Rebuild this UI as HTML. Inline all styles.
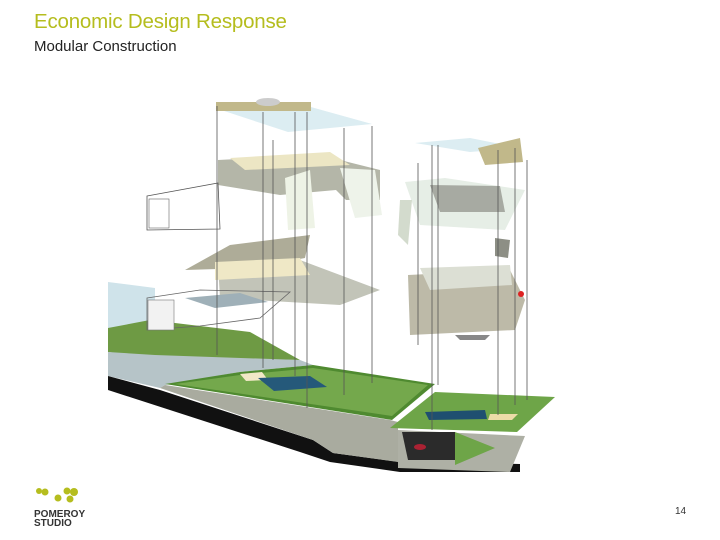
<!DOCTYPE html>
<html><head><meta charset="utf-8"><style>
html,body{margin:0;padding:0;background:#fff;width:720px;height:540px;overflow:hidden;font-family:"Liberation Sans",sans-serif}
.t{position:absolute;left:34px;top:10px;font-size:20.5px;color:#b5bd1e;letter-spacing:-0.2px}
.s{position:absolute;left:34px;top:38px;font-size:15px;color:#222}
.n{position:absolute;left:675px;top:506px;font-size:10px;color:#333}
.lg{position:absolute;left:34px;top:510px;font-size:10px;font-weight:bold;line-height:9px;color:#333}
</style></head><body>
<div class="t">Economic Design Response</div>
<div class="s">Modular Construction</div>
<svg width="720" height="540" style="position:absolute;left:0;top:0">
<g fill="#b5bd1e"><circle cx="39" cy="491" r="3"/><circle cx="45" cy="492" r="3.5"/><circle cx="58" cy="498" r="3.5"/><circle cx="67" cy="491" r="3.5"/><circle cx="74" cy="492" r="4"/><circle cx="70" cy="499" r="3.5"/></g>
<!-- ground -->
<polygon points="108,282 155,288 155,332 108,330" fill="#cfe3ea"/>
<polygon points="108,328 150,320 250,332 300,360 155,358 108,352" fill="#6e9a44"/>
<polygon points="108,352 155,355 300,360 313,365 240,372 165,385 160,388 108,376" fill="#b6c4c8"/>
<polygon points="108,376 160,390 313,440 333,453 400,462 520,464 520,472 400,472 330,462 300,452 108,390" fill="#111"/>
<polygon points="160,388 165,385 390,420 398,422 398,462 333,453 313,440" fill="#a9ab9f"/>
<polygon points="165,384 240,372 313,365 435,384 392,420" fill="#4f8a30"/>
<polygon points="175,384 240,375 313,368 428,385 392,416" fill="#74a84c"/>
<polygon points="240,374 262,372 268,380 246,381" fill="#f1e8c6"/>
<polygon points="258,378 310,376 327,387 274,391" fill="#25597a"/>
<polygon points="390,428 435,392 555,397 517,432" fill="#6ea548"/>
<polygon points="425,412 485,410 487,419 429,420" fill="#1f4f70"/>
<polygon points="490,414 518,414 512,420 488,420" fill="#ecdca8"/>
<polygon points="398,430 525,436 510,472 398,468" fill="#aeb0a5"/>
<polygon points="402,432 455,432 455,460 408,460" fill="#2b2b2b"/>
<polygon points="455,432 495,448 455,465" fill="#6ea548"/>
<ellipse cx="420" cy="447" rx="6" ry="3" fill="#a23"/>
<!-- left building -->
<polygon points="215,108 300,104 372,124 288,132" fill="#dcedf2"/>
<rect x="216" y="102" width="95" height="9" fill="#c1b88a"/>
<ellipse cx="268" cy="102" rx="12" ry="4" fill="#ccc"/>
<polygon points="218,160 320,155 380,170 380,200 346,200 336,190 280,195 218,185" fill="#b4b6a8"/>
<polygon points="230,158 330,152 350,165 245,170" fill="#ece6c4"/>
<polygon points="340,168 375,170 382,215 355,218" fill="#eef3ea"/>
<polygon points="285,178 310,170 315,228 288,230" fill="#eef3e6"/>
<polygon points="147,196 218,183 220,229 147,230" fill="none" stroke="#555" stroke-width=".8"/>
<rect x="149" y="199" width="20" height="29" fill="#fff" stroke="#666" stroke-width=".6"/>
<polygon points="185,270 230,245 310,235 305,258 250,268" fill="#aeac98"/>
<polygon points="218,265 300,260 380,290 340,305 220,298" fill="#c2c4b8"/>
<polygon points="215,262 300,258 310,275 215,280" fill="#efe8c6"/>
<polygon points="147,298 200,290 290,292 260,318 200,326 147,330" fill="none" stroke="#666" stroke-width=".8"/>
<polygon points="185,298 240,293 268,302 215,308" fill="#9fb0b8"/>
<rect x="148" y="300" width="26" height="30" fill="#f2f2f2" stroke="#777" stroke-width=".6"/>
<!-- right building -->
<polygon points="415,143 470,138 520,148 470,152" fill="#dcedf2"/>
<polygon points="478,148 520,138 523,162 485,165" fill="#c1b88a"/>
<polygon points="405,182 445,178 525,190 505,230 420,225" fill="#e6eee6"/>
<polygon points="430,185 500,186 505,212 440,212" fill="#a7aaa2"/>
<polygon points="400,200 412,200 408,245 398,235" fill="#d3dbcd"/>
<polygon points="495,238 510,240 508,258 495,256" fill="#8d8f85"/>
<polygon points="408,275 510,270 525,300 515,330 410,335" fill="#bdbaa8"/>
<polygon points="420,268 510,265 512,285 430,290" fill="#dcdfd4"/>
<polygon points="455,335 490,335 485,340 460,340" fill="#888"/>
<circle cx="521" cy="294" r="3" fill="#d22"/>
<g stroke="#555" stroke-width=".8">
<line x1="217" y1="106" x2="217" y2="355"/><line x1="263" y1="112" x2="263" y2="368"/>
<line x1="273" y1="140" x2="273" y2="360"/><line x1="295" y1="112" x2="295" y2="376"/>
<line x1="307" y1="112" x2="307" y2="408"/><line x1="344" y1="128" x2="344" y2="395"/>
<line x1="372" y1="126" x2="372" y2="383"/>
<line x1="418" y1="163" x2="418" y2="345"/><line x1="432" y1="145" x2="432" y2="430"/>
<line x1="438" y1="145" x2="438" y2="385"/><line x1="498" y1="150" x2="498" y2="415"/>
<line x1="515" y1="148" x2="515" y2="405"/><line x1="527" y1="160" x2="527" y2="400"/>
</g>
</svg>
<div class="lg">POMEROY<br>STUDIO</div>
<div class="n">14</div>
</body></html>
